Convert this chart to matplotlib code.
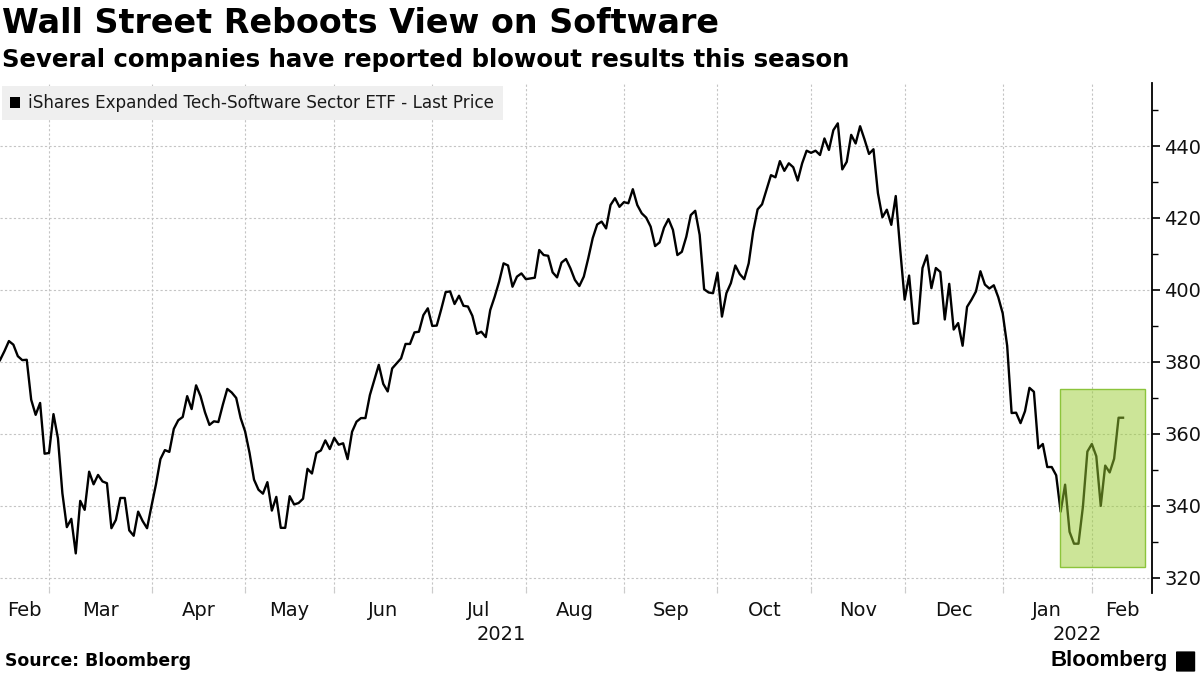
import matplotlib
matplotlib.use('Agg')
import matplotlib.pyplot as plt
import matplotlib.patches as mpatches
import numpy as np
import pandas as pd

title = 'Wall Street Reboots View on Software'
subtitle = 'Several companies have reported blowout results this season'
series_name = 'iShares Expanded Tech-Software Sector ETF - Last Price'
source = 'Source: Bloomberg'

# trading days, first one 11 Feb 2021
start_date = '2021-02-11'
market_holidays = ['2021-02-15', '2021-04-02', '2021-05-31', '2021-07-05',
                   '2021-09-06', '2021-11-25', '2021-12-24', '2022-01-17']

prices = [
    380.5, 383.0, 385.8, 384.8, 381.6, 380.5, 380.6, 369.5, 365.3, 368.6,
    354.5, 354.7, 365.5, 358.8, 343.5, 334.1, 336.4, 326.8, 341.4, 338.9,
    349.5, 346.0, 348.6, 346.8, 346.3, 333.8, 336.1, 342.2, 342.2, 333.2,
    331.7, 338.4, 335.8, 333.8, 340.0, 346.0, 353.0, 355.5, 355.0, 361.4,
    363.8, 364.7, 370.5, 366.9, 373.5, 370.5, 366.0, 362.5, 363.5, 363.3,
    368.1, 372.5, 371.5, 370.0, 364.4, 360.7, 354.7, 347.3, 344.5, 343.4,
    346.6, 338.7, 342.5, 333.9, 333.9, 342.7, 340.4, 340.8, 342.0, 350.3,
    349.0, 354.7, 355.4, 358.2, 355.8, 358.9, 357.0, 357.4, 353.0, 360.6,
    363.4, 364.4, 364.4, 370.8, 375.0, 379.2, 373.9, 371.8, 378.2, 379.6,
    381.0, 385.0, 385.0, 388.2, 388.4, 393.0, 394.9, 390.0, 390.1, 394.6,
    399.4, 399.6, 396.1, 398.4, 395.6, 395.4, 392.8, 387.8, 388.4, 386.9,
    394.4, 398.1, 402.3, 407.4, 406.8, 400.9, 403.7, 404.6, 403.0, 403.2,
    403.4, 411.1, 409.7, 409.5, 404.9, 403.5, 407.6, 408.6, 406.0, 402.8,
    401.1, 403.7, 408.8, 414.4, 418.2, 419.0, 417.1, 423.6, 425.5, 423.1,
    424.4, 424.1, 428.0, 423.6, 421.3, 420.1, 417.6, 412.2, 413.2, 417.3,
    419.7, 416.7, 409.7, 410.6, 414.8, 420.8, 422.0, 415.3, 400.2, 399.3,
    399.1, 404.8, 392.6, 399.1, 401.9, 406.8, 404.4, 403.0, 407.4, 416.2,
    422.4, 423.8, 427.8, 431.9, 431.3, 435.8, 433.1, 435.2, 434.1, 430.4,
    435.2, 438.7, 438.1, 438.7, 437.5, 442.1, 438.9, 444.4, 446.3, 433.5,
    435.6, 443.1, 440.7, 445.5, 441.8, 437.8, 439.1, 426.9, 420.2, 422.3,
    418.1, 426.1, 411.2, 397.3, 404.0, 390.6, 390.8, 406.1, 409.6, 400.5,
    406.1, 405.0, 391.8, 401.7, 389.0, 390.8, 384.5, 395.3, 397.3, 399.6,
    405.2, 401.5, 400.4, 401.3, 398.0, 393.5, 384.5, 365.8, 365.9, 363.0,
    366.3, 372.8, 371.7, 356.0, 357.2, 350.8, 350.8, 348.5, 338.4, 345.9,
    332.8, 329.5, 329.5, 339.8, 355.1, 357.2, 353.8, 340.0, 351.2, 349.3,
    353.1, 364.5, 364.5,
]

y_ticks = [320, 340, 360, 380, 400, 420, 440]
y_range = (315.8, 457.5)
# highlighted box, in trading-day positions and price units
highlight_days = (237.8, 257.0)
highlight_prices = (323.0, 372.5)

dates = pd.bdate_range(start=start_date, periods=len(prices), freq='C',
                       holidays=market_holidays)
x = np.arange(len(prices))
x_end = len(prices) - 1 + 6.5

month_starts = [i for i in range(1, len(dates)) if dates[i].month != dates[i - 1].month]
bounds = [0] + month_starts + [x_end]
month_centers = [(a + b) / 2 for a, b in zip(bounds[:-1], bounds[1:])]
month_names = [dates[b].strftime('%b') for b in bounds[:-1]]
year_starts = [0] + [i for i in month_starts if dates[i].year != dates[i - 1].year]
year_bounds = year_starts + [x_end]
year_centers = [(a + b) / 2 for a, b in zip(year_bounds[:-1], year_bounds[1:])]
year_names = [str(dates[b].year) for b in year_starts]

fig = plt.figure(figsize=(12, 6.75), dpi=100)
ax = fig.add_axes([0.0, 0.1215, 0.96, 0.7555])

ax.plot(x, prices, color='black', lw=1.7, zorder=2)
ax.add_patch(mpatches.Rectangle((highlight_days[0], highlight_prices[0]),
                                highlight_days[1] - highlight_days[0],
                                highlight_prices[1] - highlight_prices[0],
                                facecolor='#9acd32', alpha=0.5, edgecolor='none', zorder=3))
ax.add_patch(mpatches.Rectangle((highlight_days[0], highlight_prices[0]),
                                highlight_days[1] - highlight_days[0],
                                highlight_prices[1] - highlight_prices[0],
                                facecolor='none', edgecolor='#8cc43c', lw=1, zorder=4))

ax.set_xlim(0, x_end)
ax.set_ylim(*y_range)

for s in ['left', 'top', 'bottom']:
    ax.spines[s].set_visible(False)
ax.spines['right'].set_linewidth(1.3)

ax.yaxis.tick_right()
ax.set_yticks(y_ticks)
ax.set_yticks(np.arange(330, 460, 20), minor=True)
ax.tick_params(axis='y', which='major', length=6, width=1.2, labelsize=14, pad=3,
               labelcolor='#111111')
ax.tick_params(axis='y', which='minor', length=4, width=1.0)

ax.set_xticks(month_starts)
ax.set_xticklabels([])
ax.set_xticks(month_centers, minor=True)
ax.set_xticklabels(month_names, minor=True)
ax.tick_params(axis='x', which='major', length=4, color='#cccccc', direction='in')
ax.tick_params(axis='x', which='minor', length=0, labelsize=14, pad=6,
               labelcolor='#111111')

ax.grid(True, which='major', color='#c4c4c4', linestyle=(0, (2, 2)), lw=0.8)

for xc, name in zip(year_centers, year_names):
    ax.text(xc, -0.062, name, transform=ax.get_xaxis_transform(), ha='center',
            va='top', fontsize=14, color='#111111')

# headings
fig.text(0.002, 0.99, title, fontsize=24, fontweight='bold', va='top', ha='left')
fig.text(0.002, 0.929, subtitle, fontsize=17.6, fontweight='bold', va='top', ha='left')

# legend box
fig.patches.append(mpatches.Rectangle((0.0017, 0.8222), 0.4175, 0.0504,
                                      transform=fig.transFigure, facecolor='#efefef',
                                      edgecolor='none'))
fig.patches.append(mpatches.Rectangle((0.0083, 0.840), 0.0083, 0.0163,
                                      transform=fig.transFigure, facecolor='black',
                                      edgecolor='none'))
fig.text(0.0233, 0.8474, series_name, fontsize=12.05, va='center', ha='left',
         color='#1a1a1a')

# footer
fig.text(0.004, 0.021, source, fontsize=12.4, fontweight='bold', va='center', ha='left')
fig.text(0.973, 0.021, 'Bloomberg', fontsize=16, fontweight='bold', va='center',
         ha='right', family='Liberation Sans')
fig.patches.append(mpatches.FancyBboxPatch((0.981, 0.006), 0.014, 0.028,
                                           boxstyle='round,pad=0.001',
                                           transform=fig.transFigure,
                                           facecolor='black', edgecolor='none'))

fig.savefig('out.png', dpi=100)
